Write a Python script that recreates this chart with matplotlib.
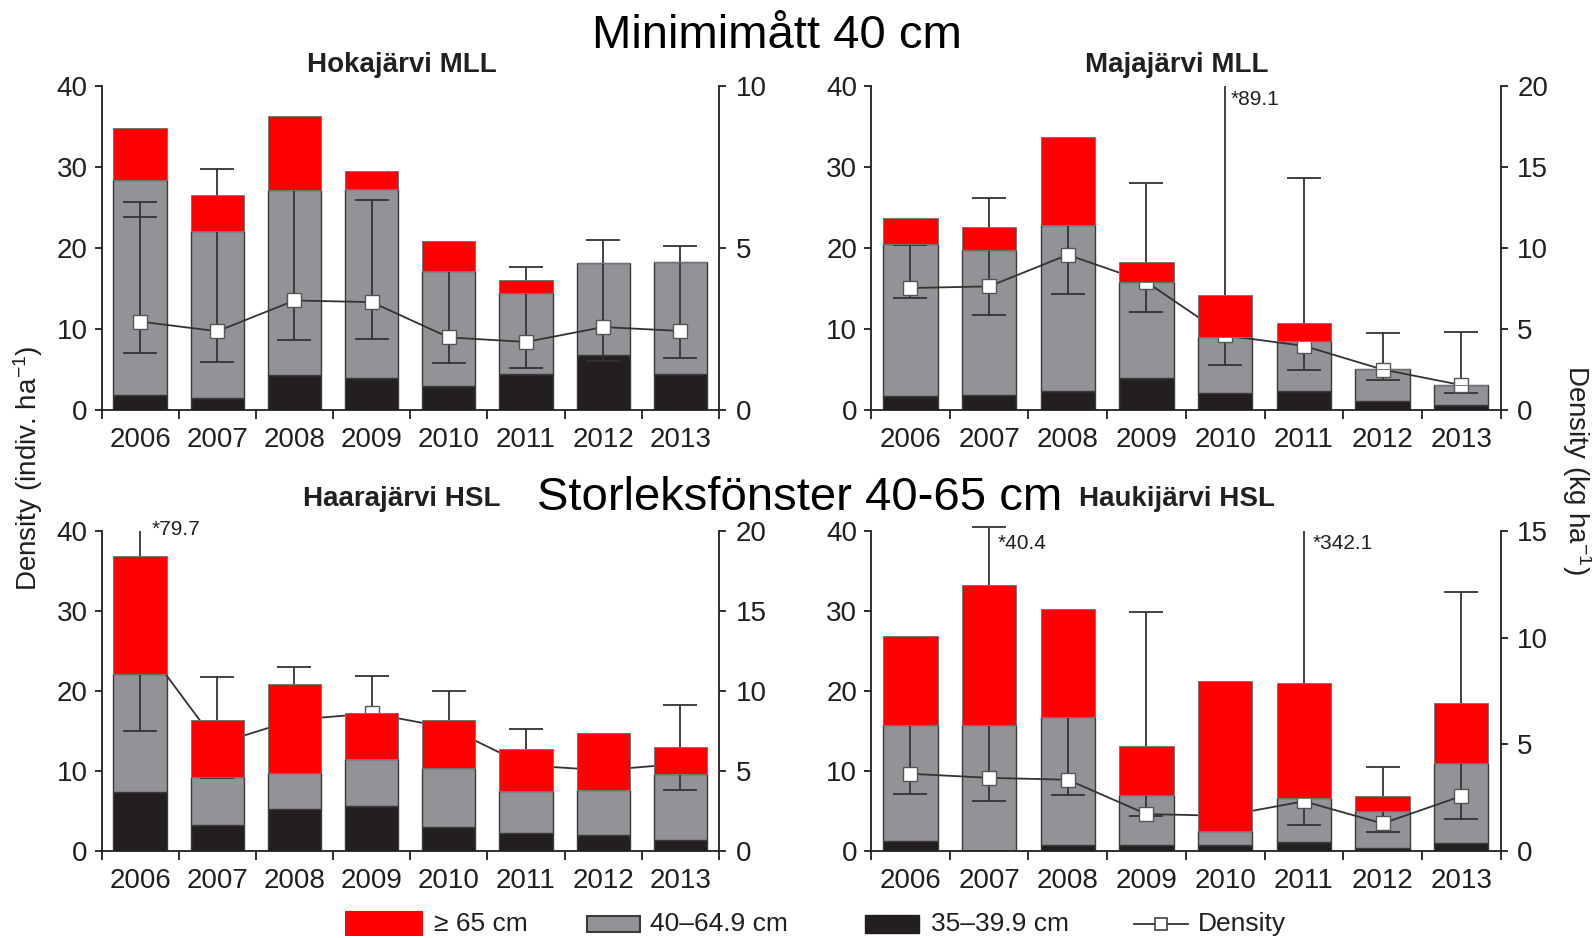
import numpy as np
import matplotlib
matplotlib.use('Agg')
import matplotlib.pyplot as plt
from matplotlib.patches import Rectangle
from matplotlib.lines import Line2D

plt.rcParams['font.family'] = ['Liberation Sans', 'DejaVu Sans']
plt.rcParams['mathtext.fontset'] = 'custom'
plt.rcParams['mathtext.rm'] = 'Liberation Sans'
plt.rcParams['mathtext.it'] = 'Liberation Sans:italic'
plt.rcParams['mathtext.default'] = 'regular'

# ---------------- data ----------------
years = ['2006', '2007', '2008', '2009', '2010', '2011', '2012', '2013']
class_labels = ['\u2265 65 cm', '40\u201364.9 cm', '35\u201339.9 cm', 'Density']

# Hokajärvi MLL (indiv/ha per size class; biomass density kg/ha)
hoka_small = [1.9, 1.5, 4.3, 3.9, 3.0, 4.5, 6.8, 4.5]
hoka_mid = [26.5, 20.6, 22.9, 23.4, 14.1, 10.0, 11.4, 13.8]
hoka_large = [6.4, 4.4, 9.1, 2.2, 3.8, 1.5, 0.0, 0.0]
hoka_dens = [2.73, 2.43, 3.38, 3.33, 2.24, 2.10, 2.56, 2.44]
hoka_lo = [1.76, 1.47, 2.17, 2.19, 1.44, 1.31, 1.50, 1.59]
hoka_hi = [6.43, 7.44, 7.5, 6.48, 4.8, 4.41, 5.25, 5.06]
hoka_hi2 = [5.97, None, None, None, None, None, None, None]
hoka_stars = []

# Majajärvi MLL
maja_small = [1.7, 1.9, 2.3, 4.0, 2.1, 2.3, 1.15, 0.6]
maja_mid = [18.8, 17.9, 20.5, 11.8, 6.9, 6.2, 3.95, 2.5]
maja_large = [3.2, 2.8, 10.9, 2.5, 5.15, 2.2, 0.0, 0.0]
maja_dens = [7.53, 7.63, 9.58, 7.9, 4.6, 3.96, 2.5, 1.54]
maja_lo = [6.9, 5.85, 7.18, 6.05, 2.77, 2.46, 1.85, 1.03]
maja_hi = [10.2, 13.1, 12.0, 14.0, None, 14.3, 4.76, 4.82]
maja_stars = [(4, '*89.1')]

# Haarajärvi HSL
haara_small = [7.35, 3.27, 5.25, 5.67, 3.02, 2.3, 1.97, 1.34]
haara_mid = [14.75, 6.03, 4.49, 5.87, 7.38, 5.25, 5.71, 8.31]
haara_large = [14.8, 7.1, 11.16, 5.76, 5.97, 5.25, 7.02, 3.35]
haara_dens = [13.2, 6.7, 8.2, 8.6, 7.7, 5.35, 5.05, 5.45]
haara_lo = [7.5, 4.57, 6.5, 7.5, 6.0, 4.5, 4.0, 3.84]
haara_hi = [None, 10.85, 11.5, 10.96, 10.0, 7.6, 6.5, 9.13]
haara_stars = [(0, '*79.7')]

# Haukijärvi HSL
hauki_small = [1.26, 0.0, 0.76, 0.76, 0.76, 1.13, 0.34, 1.05]
hauki_mid = [14.48, 15.74, 16.04, 6.29, 1.74, 5.5, 4.61, 9.95]
hauki_large = [11.12, 17.56, 13.5, 6.05, 18.7, 14.37, 1.98, 7.47]
hauki_dens = [3.62, 3.43, 3.34, 1.73, 1.65, 2.33, 1.29, 2.57]
hauki_lo = [2.68, 2.33, 2.64, 1.65, 1.2, 1.21, 0.91, 1.5]
hauki_hi = [6.5, 15.2, 7.0, 11.2, 3.0, None, 3.94, 12.15]
hauki_stars = [(1, '*40.4'), (5, '*342.1')]

# ---------------- style ----------------
C_RED = '#FF0000'
C_GRAY = '#929397'
C_BLACK = '#231F20'
C_EDGE = '#3A3A3A'
C_LINE = '#333333'
TXT = '#231F20'

W, H = 1592, 938
fig = plt.figure(figsize=(W / 100, H / 100), dpi=100)


def rect(l, t, r, b):
    return [l / W, 1 - b / H, (r - l) / W, (b - t) / H]


panels = [
    dict(title='Hokajärvi MLL', box=(101.5, 86, 719, 410), ymax2=10, tpad=10,
         small=hoka_small, mid=hoka_mid, large=hoka_large, dens=hoka_dens,
         lo=hoka_lo, hi=hoka_hi, hi2=hoka_hi2, stars=hoka_stars, star_off=(6, -10)),
    dict(title='Majajärvi MLL', box=(871, 86, 1500.6, 410), ymax2=20, tpad=10,
         small=maja_small, mid=maja_mid, large=maja_large, dens=maja_dens,
         lo=maja_lo, hi=maja_hi, hi2=None, stars=maja_stars, star_off=(4, -10)),
    dict(title='Haarajärvi HSL', box=(101.5, 531, 719, 851), ymax2=20, tpad=18,
         small=haara_small, mid=haara_mid, large=haara_large, dens=haara_dens,
         lo=haara_lo, hi=haara_hi, hi2=None, stars=haara_stars, star_off=(8, 1)),
    dict(title='Haukijärvi HSL', box=(871, 531, 1500.6, 851), ymax2=15, tpad=18,
         small=hauki_small, mid=hauki_mid, large=hauki_large, dens=hauki_dens,
         lo=hauki_lo, hi=hauki_hi, hi2=None, stars=hauki_stars, star_off=(6, -9)),
]

x = np.arange(len(years))
BW = 0.69
TICK_FS = 20
CAP = 12

for p in panels:
    ax = fig.add_axes(rect(*p['box']))
    ax2 = ax.twinx()
    ax3 = ax.twinx()

    small = np.array(p['small'])
    mid = np.array(p['mid'])
    large = np.array(p['large'])
    dens = np.array(p['dens'])
    lo = np.array(p['lo'])
    hi = np.array([np.nan if h is None else h for h in p['hi']])
    ymax2 = p['ymax2']

    # stacked bars (black + gray)
    ax.bar(x, small, BW, color=C_BLACK, edgecolor=C_EDGE, linewidth=1.0, zorder=2)
    ax.bar(x, mid, BW, bottom=small, color=C_GRAY, edgecolor=C_EDGE, linewidth=1.0, zorder=2)

    # density with error bars
    ok = ~np.isnan(hi)
    ax2.errorbar(x[ok], dens[ok], yerr=[dens[ok] - lo[ok], hi[ok] - dens[ok]],
                 fmt='none', ecolor=C_LINE, elinewidth=1.3, capsize=CAP, capthick=1.3,
                 clip_on=False, zorder=2)
    clip = ~ok
    if clip.any():
        ax2.vlines(x[clip], lo[clip], ymax2, colors=C_LINE, linewidth=1.3, zorder=2)
        ax2.plot(x[clip], lo[clip], ls='none', marker='_', ms=2 * CAP, mew=1.3,
                 color=C_LINE, zorder=2)
    if p['hi2'] is not None:
        h2 = np.array([np.nan if h is None else h for h in p['hi2']])
        m2 = ~np.isnan(h2)
        ax2.plot(x[m2], h2[m2], ls='none', marker='_', ms=2 * CAP, mew=1.3,
                 color=C_LINE, zorder=2)
    ax2.plot(x, dens, color=C_LINE, lw=1.3, marker='s', ms=10, mfc='white',
             mec='#555555', mew=1.0, zorder=3)

    # red (>=65 cm) on top
    ax3.bar(x, large, BW, bottom=small + mid, color=C_RED, edgecolor='#777777',
            linewidth=0.7, zorder=2)

    for a in (ax, ax3):
        a.set_ylim(0, 40)
    ax2.set_ylim(0, ymax2)
    for a in (ax, ax2, ax3):
        a.set_xlim(-0.5, len(years) - 0.5)

    # axes styling
    for s in ['top', 'right']:
        ax.spines[s].set_visible(False)
    for s in ['left', 'bottom']:
        ax.spines[s].set_linewidth(1.3)
        ax.spines[s].set_color(TXT)
    for s in ['top', 'left', 'bottom']:
        ax2.spines[s].set_visible(False)
    ax2.spines['right'].set_linewidth(1.3)
    ax2.spines['right'].set_color(TXT)
    ax3.axis('off')

    ax.set_yticks([0, 10, 20, 30, 40])
    ax.tick_params(axis='y', direction='out', length=5, width=1.3, colors=TXT,
                   labelsize=TICK_FS, pad=5)
    ax2.set_yticks(np.arange(0, ymax2 + 0.1, 5))
    ax2.set_yticklabels([str(int(v)) for v in np.arange(0, ymax2 + 0.1, 5)])
    ax2.tick_params(axis='y', direction='out', length=5, width=1.3, colors=TXT,
                    labelsize=TICK_FS, pad=7)

    ax.set_xticks(np.arange(-0.5, len(years)), minor=False)
    ax.set_xticklabels([''] * (len(years) + 1))
    ax.set_xticks(x, minor=True)
    ax.set_xticklabels(years, minor=True)
    ax.tick_params(axis='x', which='major', direction='out', length=6.5, width=1.3,
                   colors=TXT)
    ax.tick_params(axis='x', which='minor', length=0, labelsize=TICK_FS, pad=12,
                   colors=TXT)
    ax2.tick_params(axis='x', which='both', bottom=False, labelbottom=False)

    ax.set_title(p['title'], fontsize=20, fontweight='bold', color=TXT,
                 pad=p['tpad'], x=0.486)

    for i, txt in p['stars']:
        ax2.annotate(txt, xy=(i, ymax2), xytext=p['star_off'],
                     textcoords='offset points', ha='left', va='center',
                     fontsize=15, color=TXT, annotation_clip=False)

# headers
fig.text(777 / W, 1 - 36 / H, 'Minimimått 40 cm', fontsize=34, ha='center',
         va='center', color='black')
fig.text(800 / W, 1 - 498 / H, 'Storleksfönster 40-65 cm', fontsize=34,
         ha='center', va='center', color='black')

# axis labels
fig.text(28 / W, 1 - 468 / H, 'Density (indiv. ha$^{-1}$)', rotation=90,
         fontsize=20, ha='center', va='center', color=TXT)
fig.text(1577 / W, 1 - 470 / H, 'Density (kg ha$^{-1}$)', rotation=270,
         fontsize=20, ha='center', va='center', color=TXT)

# legend (manual)
def fpatch(l, t, r, b, **kw):
    fig.add_artist(Rectangle((l / W, 1 - b / H), (r - l) / W, (b - t) / H,
                             transform=fig.transFigure, **kw))

LY = 924
fpatch(345, 911, 423, 936, facecolor=C_RED, edgecolor='none')
fig.text(434 / W, 1 - LY / H, class_labels[0], fontsize=19, va='center', color=TXT)
fpatch(587, 916, 640, 932, facecolor=C_GRAY, edgecolor=C_EDGE, linewidth=1.5)
fig.text(650 / W, 1 - LY / H, class_labels[1], fontsize=19, va='center', color=TXT)
fpatch(865, 915, 919, 933, facecolor=C_BLACK, edgecolor=C_BLACK)
fig.text(931 / W, 1 - LY / H, class_labels[2], fontsize=19, va='center', color=TXT)
fig.add_artist(Line2D([1134 / W, 1188 / W], [1 - LY / H, 1 - LY / H],
                      transform=fig.transFigure, color=C_LINE, lw=1.3))
fig.add_artist(Line2D([1161 / W], [1 - LY / H], transform=fig.transFigure,
                      marker='s', ms=9, mfc='white', mec='#444444', mew=1.2))
fig.text(1198 / W, 1 - LY / H, class_labels[3], fontsize=19, va='center', color=TXT)

fig.savefig('out.png', dpi=100)
